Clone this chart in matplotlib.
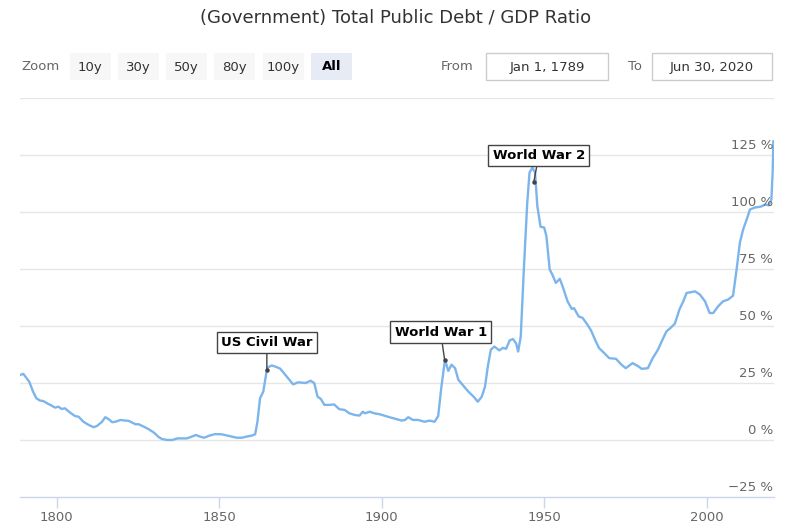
import matplotlib
matplotlib.use("Agg")
import matplotlib.pyplot as plt
from matplotlib.patches import Rectangle
from matplotlib.transforms import blended_transform_factory

# Datos (año, deuda/PIB en %)
years = [1789.0, 1789.8, 1791.6, 1792.8, 1793.8, 1794.9, 1795.9, 1797.5, 1798.5, 1799.5,
         1800.6, 1801.6, 1802.6, 1804.2, 1805.7, 1806.8, 1808.3, 1809.9, 1811.4, 1812.5,
         1814.0, 1815.0, 1816.1, 1817.1, 1818.1, 1819.7, 1821.2, 1822.2, 1823.3, 1824.3,
         1825.3, 1826.9, 1828.4, 1830.0, 1831.5, 1832.5, 1834.1, 1835.6, 1837.2, 1840.0,
         1841.1, 1842.9, 1844.1, 1845.4, 1847.0, 1848.8, 1850.8, 1852.4, 1853.9, 1855.4,
         1857.0, 1858.5, 1860.0, 1861.1, 1861.8, 1862.6, 1863.6, 1864.7, 1865.2, 1866.2,
         1867.3, 1868.8, 1870.9, 1872.8, 1874.3, 1876.6, 1878.2, 1879.3, 1880.3, 1881.3,
         1882.4, 1883.9, 1885.4, 1887.0, 1888.6, 1890.1, 1891.7, 1893.2, 1894.2, 1894.9,
         1896.3, 1897.8, 1899.4, 1900.8, 1902.4, 1904.5, 1906.2, 1907.2, 1908.2, 1909.6,
         1911.2, 1913.2, 1914.8, 1916.3, 1917.4, 1918.4, 1919.5, 1920.5, 1921.5, 1922.6,
         1923.6, 1925.2, 1926.7, 1928.3, 1929.6, 1930.8, 1931.8, 1932.7, 1933.6, 1934.7,
         1936.2, 1937.3, 1938.3, 1939.4, 1940.4, 1941.4, 1942.0, 1942.8, 1943.8, 1944.8,
         1945.5, 1946.4, 1947.2, 1947.9, 1948.9, 1950.0, 1950.7, 1951.7, 1952.5, 1953.6,
         1954.8, 1955.6, 1957.2, 1958.5, 1959.2, 1960.6, 1961.8, 1963.3, 1964.4, 1965.9,
         1966.9, 1968.5, 1970.0, 1972.1, 1973.8, 1975.1, 1977.2, 1978.9, 1980.0, 1981.9,
         1983.4, 1985.0, 1986.4, 1987.6, 1988.6, 1990.2, 1991.6, 1992.8, 1993.8, 1995.1,
         1996.4, 1997.9, 1999.5, 2000.9, 2002.0, 2003.5, 2005.0, 2006.6, 2008.1, 2009.2,
         2010.2, 2011.2, 2012.3, 2013.3, 2014.9, 2016.5, 2018.1, 2019.1, 2019.9, 2020.3,
         2020.5]
debt_gdp = [28.6, 29.0, 25.6, 21.2, 18.3, 17.3, 17.1, 15.8, 15.1, 14.2,
            14.6, 13.6, 13.9, 12.0, 10.5, 10.2, 8.0, 6.6, 5.6, 6.2,
            8.0, 10.0, 9.1, 7.8, 8.0, 8.8, 8.5, 8.4, 7.6, 6.9,
            6.9, 5.8, 4.7, 3.2, 1.2, 0.4, 0.0, 0.0, 0.7, 0.7,
            1.2, 2.2, 1.5, 1.0, 1.9, 2.6, 2.5, 2.0, 1.5, 1.0,
            1.0, 1.5, 1.9, 2.5, 8.0, 18.3, 21.2, 30.8, 32.0, 32.7,
            32.2, 31.3, 27.7, 24.4, 25.3, 25.0, 26.0, 24.9, 19.0, 18.0,
            15.4, 15.4, 15.6, 13.5, 13.2, 11.7, 11.0, 10.7, 12.4, 11.7,
            12.4, 11.7, 11.3, 10.7, 10.0, 9.2, 8.5, 8.8, 10.0, 8.8,
            8.8, 8.0, 8.5, 8.0, 10.5, 23.4, 35.2, 30.3, 33.0, 31.5,
            26.4, 23.7, 21.2, 19.0, 16.8, 19.0, 23.4, 32.5, 39.6, 41.0,
            39.3, 40.4, 40.0, 43.7, 44.3, 42.3, 38.8, 45.4, 76.2, 104.0,
            117.3, 119.5, 117.3, 102.6, 93.5, 93.2, 89.4, 74.8, 72.6, 68.9,
            70.7, 67.7, 60.8, 57.5, 57.8, 54.2, 53.6, 50.6, 48.1, 43.2,
            40.3, 38.1, 35.9, 35.6, 33.0, 31.5, 33.7, 32.4, 31.2, 31.5,
            35.9, 39.6, 44.0, 47.6, 48.8, 51.0, 57.2, 60.8, 64.5, 64.8,
            65.2, 63.8, 60.8, 55.7, 55.7, 58.6, 60.8, 61.6, 63.3, 74.8,
            86.5, 92.3, 96.7, 101.1, 102.0, 102.3, 103.3, 102.9, 105.5, 118.0,
            131.0]

# Anotaciones: texto, año, valor
notes = ["US Civil War", "World War 1", "World War 2"]
note_years = [1864.7, 1919.4, 1946.8]
note_values = [30.9, 35.0, 113.0]

x_ticks = [1800, 1850, 1900, 1950, 2000]
y_ticks = [-25, 0, 25, 50, 75, 100, 125]
zoom_buttons = ["10y", "30y", "50y", "80y", "100y", "All"]
date_from = "Jan 1, 1789"
date_to = "Jun 30, 2020"

W, H = 787, 530
fig = plt.figure(figsize=(W / 100, H / 100), dpi=100)


def fx(x):
    return x / W


def fy(y):
    return 1 - y / H


# area del grafico en pixeles
left, right, top, bottom = 20, 774, 98, 497
ax = fig.add_axes([fx(left), fy(bottom), (right - left) / W, (bottom - top) / H])

ax.plot(years, debt_gdp, color="#7cb5ec", lw=1.7, solid_joinstyle="round", zorder=3)
ax.set_xlim(1788.77, 2020.7)
ax.set_ylim(-25, 150)

for v in [0, 25, 50, 75, 100, 125, 150]:
    ax.axhline(v, color="#e6e6e6", lw=1, zorder=1)

for s in ["top", "left", "right"]:
    ax.spines[s].set_visible(False)
ax.spines["bottom"].set_color("#ccd6eb")
ax.spines["bottom"].set_linewidth(1)

ax.set_xticks(x_ticks)
ax.set_xticklabels([str(t) for t in x_ticks])
ax.tick_params(axis="x", length=8, width=1, color="#ccd6eb", labelcolor="#666666",
               labelsize=9.5, pad=2)
ax.set_yticks([])

trans = blended_transform_factory(ax.transAxes, ax.transData)
for v in y_ticks:
    ax.annotate(f"{v} %".replace("-", "\u2212"), xy=(1.0, v), xycoords=trans,
                xytext=(-1, 3), textcoords="offset pixels", ha="right", va="bottom",
                fontsize=9.5, color="#666666")

# anotaciones de eventos
offsets = [(0, 27), (-4, 28), (5, 27)]
for txt, yr, val, off in zip(notes, note_years, note_values, offsets):
    ax.annotate(txt, xy=(yr, val), xytext=off, textcoords="offset pixels",
                ha="center", va="center", fontsize=9.5, fontweight="bold", color="black",
                bbox=dict(boxstyle="square,pad=0.32", fc="white", ec="#444444", lw=1),
                arrowprops=dict(arrowstyle="-", color="#444444", lw=1, shrinkA=0, shrinkB=0),
                zorder=5)
    ax.plot(yr, val, "o", ms=2.2, color="#444444", zorder=6)

# titulo
fig.text(fx(396), fy(18), "(Government) Total Public Debt / GDP Ratio", ha="center",
         va="center", fontsize=13, color="#333333")

# selector de rango
fig.text(fx(21), fy(67), "Zoom", ha="left", va="center", fontsize=9.5, color="#666666")
for i, lab in enumerate(zoom_buttons):
    x0 = 69.5 + i * 48.3
    sel = lab == "All"
    fig.add_artist(Rectangle((fx(x0), fy(80)), 41 / W, 27 / H, transform=fig.transFigure,
                             fc="#e6ebf5" if sel else "#f7f7f7", ec="none"))
    fig.text(fx(x0 + 20.5), fy(67), lab, ha="center", va="center", fontsize=9.5,
             color="black" if sel else "#333333", fontweight="bold" if sel else "normal")

fig.text(fx(473), fy(67), "From", ha="right", va="center", fontsize=9.5, color="#666666")
fig.text(fx(642), fy(67), "To", ha="right", va="center", fontsize=9.5, color="#666666")
for (x0, x1), lab in zip([(486, 608), (652, 772)], [date_from, date_to]):
    fig.add_artist(Rectangle((fx(x0), fy(80)), (x1 - x0) / W, 27 / H, transform=fig.transFigure,
                             fc="white", ec="#cccccc", lw=1))
    fig.text(fx((x0 + x1) / 2), fy(67), lab, ha="center", va="center", fontsize=9.5,
             color="#333333")

fig.savefig("out.png", dpi=100)
